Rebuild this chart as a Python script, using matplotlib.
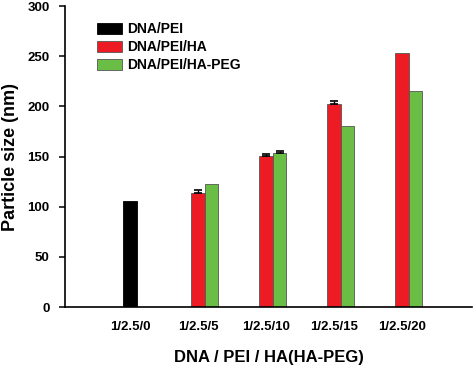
import numpy as np
import matplotlib.pyplot as plt

plt.rcParams['font.family'] = ['Liberation Sans', 'DejaVu Sans']
plt.rcParams['font.weight'] = 'bold'

# Datos
categorias = ['1/2.5/0', '1/2.5/5', '1/2.5/10', '1/2.5/15', '1/2.5/20']
dna_pei = [106]
dna_pei_ha = [114, 151, 202.5, 253]
dna_pei_ha_err = [2.5, 1.5, 3, 0]
dna_pei_ha_peg = [123, 153.5, 180, 215]
dna_pei_ha_peg_err = [0, 1.5, 0, 0]

x = np.arange(len(categorias))
w = 0.2

fig = plt.figure(figsize=(4.73, 3.71), dpi=100)
ax = fig.add_axes([0.1374, 0.1725, 0.8605, 0.8113])

ax.bar(x[:1], dna_pei, w, color='black', edgecolor='black', linewidth=0.6, label='DNA/PEI')
ax.bar(x[1:], dna_pei_ha, w, color='#ED1C24', edgecolor='#555555', linewidth=0.6, label='DNA/PEI/HA')
ax.bar(x[1:] + w, dna_pei_ha_peg, w, color='#6BBE45', edgecolor='#555555', linewidth=0.6, label='DNA/PEI/HA-PEG')

# barras de error solo hacia arriba (solo donde hay error)
def barras_error(xs, ys, errs):
    xs = np.asarray(xs)
    ys = np.asarray(ys)
    errs = np.asarray(errs)
    m = errs > 0
    ax.errorbar(xs[m], ys[m], yerr=[np.zeros(m.sum()), errs[m]], fmt='none',
                ecolor='black', elinewidth=1, capsize=3, capthick=1.2)

barras_error(x[1:], dna_pei_ha, dna_pei_ha_err)
barras_error(x[1:] + w, dna_pei_ha_peg, dna_pei_ha_peg_err)

ax.set_xlim(-0.956, 5.03)
ax.set_ylim(0, 300)
ax.set_yticks([0, 50, 100, 150, 200, 250, 300])
ax.set_xticks(x)
ax.set_xticklabels(categorias)
ax.tick_params(axis='x', length=0, pad=10, labelsize=9.5)
ax.tick_params(axis='y', direction='out', length=4, width=1.1, pad=7, labelsize=9.5)

ax.spines['top'].set_visible(False)
ax.spines['right'].set_visible(False)
ax.spines['left'].set_linewidth(1.2)
ax.spines['bottom'].set_linewidth(1.2)

ax.set_xlabel('DNA / PEI / HA(HA-PEG)', fontsize=12, fontweight='bold', labelpad=12)
ax.set_ylabel('Particle size (nm)', fontsize=13, fontweight='bold', labelpad=6)

ax.legend(loc='upper left', bbox_to_anchor=(0.065, 0.965), frameon=False, fontsize=10,
          handlelength=1.8, handleheight=0.85, handletextpad=0.4, labelspacing=0.3,
          borderaxespad=0)

fig.savefig('out.png', dpi=100)
